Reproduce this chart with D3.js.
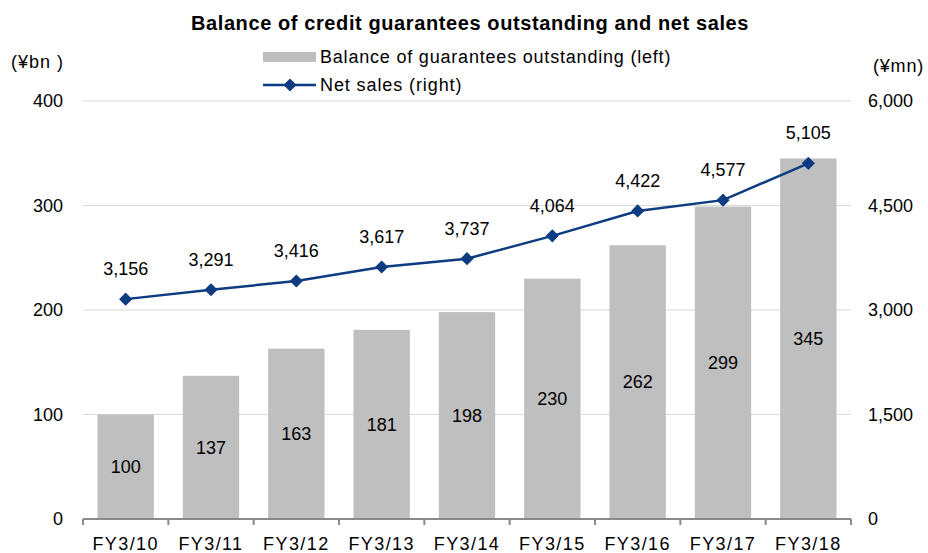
<!DOCTYPE html>
<html><head><meta charset="utf-8">
<script src="https://cdn.jsdelivr.net/npm/d3@7"></script>
<style>
html,body{margin:0;padding:0;background:#fff;}
svg text{font-family:"Liberation Sans",Arial,sans-serif;fill:#000;}
</style></head>
<body><svg id="chart" width="928" height="553"></svg>
<script>
const categories = ["FY3/10","FY3/11","FY3/12","FY3/13","FY3/14","FY3/15","FY3/16","FY3/17","FY3/18"];
const guarantees = [100,137,163,181,198,230,262,299,345];
const netSales = [3156,3291,3416,3617,3737,4064,4422,4577,5105];
const leftTicks = [0,100,200,300,400];
const rightTicks = [0,1500,3000,4500,6000];
const titleText = "Balance of credit guarantees outstanding and net sales";
const legendBar = "Balance of guarantees outstanding (left)";
const legendLine = "Net sales (right)";
const leftUnit = "(¥bn )";
const rightUnit = "(¥mn)";

const svg = d3.select("#chart");
const m = {left:83, right:851, top:101, bottom:519};
const x = d3.scaleBand().domain(categories).range([m.left,m.right]).paddingInner(0.34).paddingOuter(0.17);
const yL = d3.scaleLinear().domain([0,400]).range([m.bottom,m.top]);
const yR = d3.scaleLinear().domain([0,6000]).range([m.bottom,m.top]);
const fmt = d3.format(",");
const blue = "#0d3c82";

// gridlines
svg.append("g").selectAll("line").data(leftTicks.filter(d=>d>0)).join("line")
  .attr("x1",m.left).attr("x2",m.right)
  .attr("y1",d=>yL(d)).attr("y2",d=>yL(d))
  .attr("stroke","#d9d9d9").attr("stroke-width",1.2);

// bars
svg.append("g").selectAll("rect").data(guarantees).join("rect")
  .attr("x",(d,i)=>x(categories[i]))
  .attr("width",x.bandwidth())
  .attr("y",d=>yL(d)).attr("height",d=>yL(0)-yL(d))
  .attr("fill","#bfbfbf");

// bar labels
svg.append("g").selectAll("text").data(guarantees).join("text")
  .attr("x",(d,i)=>x(categories[i])+x.bandwidth()/2)
  .attr("y",d=>(yL(d)+yL(0))/2)
  .attr("dy","0.35em").attr("text-anchor","middle")
  .style("font-size","18px").text(d=>d);

// x axis
const xAxisG = svg.append("g").attr("transform",`translate(0,${m.bottom})`);
xAxisG.append("line").attr("x1",m.left).attr("x2",m.right).attr("stroke","#898989").attr("stroke-width",2);
const bounds = d3.range(categories.length+1).map(i=>m.left + i*(m.right-m.left)/categories.length);
xAxisG.selectAll("line.tk").data(bounds).join("line").attr("class","tk")
  .attr("x1",d=>d).attr("x2",d=>d).attr("y1",0).attr("y2",6)
  .attr("stroke","#898989").attr("stroke-width",2);
xAxisG.selectAll("text").data(categories).join("text")
  .attr("x",d=>x(d)+x.bandwidth()/2).attr("y",31)
  .attr("text-anchor","middle").style("font-size","18px").style("letter-spacing","1.4px").text(d=>d);

// left axis labels
svg.append("g").selectAll("text").data(leftTicks).join("text")
  .attr("x",63).attr("y",d=>yL(d)).attr("dy","0.35em")
  .attr("text-anchor","end").style("font-size","18px").text(d=>d);
// right axis labels
svg.append("g").selectAll("text").data(rightTicks).join("text")
  .attr("x",868).attr("y",d=>yR(d)).attr("dy","0.35em")
  .attr("text-anchor","start").style("font-size","18px").text(d=>fmt(d));

// units
svg.append("text").attr("x",11).attr("y",68).style("font-size","18px").style("letter-spacing","1px").text(leftUnit);
svg.append("text").attr("x",873).attr("y",72).style("font-size","18px").style("letter-spacing","0.8px").text(rightUnit);

// line
const cx = (d,i)=>x(categories[i])+x.bandwidth()/2;
const line = d3.line().x((d,i)=>cx(d,i)).y(d=>yR(d));
svg.append("path").datum(netSales).attr("d",line).attr("fill","none").attr("stroke",blue).attr("stroke-width",2.5);
const diamond = d3.symbol().type(d3.symbolDiamond2).size(110);
svg.append("g").selectAll("path").data(netSales).join("path")
  .attr("transform",(d,i)=>`translate(${cx(d,i)},${yR(d)})`)
  .attr("d",diamond).attr("fill",blue);
svg.append("g").selectAll("text").data(netSales).join("text")
  .attr("x",(d,i)=>cx(d,i)).attr("y",d=>yR(d)-24)
  .attr("text-anchor","middle").style("font-size","18px").text(d=>fmt(d));

// title
svg.append("text").attr("x",470).attr("y",30).attr("text-anchor","middle")
  .style("font-size","20px").style("font-weight","bold").style("letter-spacing","0.6px").text(titleText);

// legend
svg.append("rect").attr("x",263).attr("y",52).attr("width",53).attr("height",10).attr("fill","#bfbfbf");
svg.append("text").attr("x",320).attr("y",63).style("font-size","18px").style("letter-spacing","0.8px").text(legendBar);
svg.append("line").attr("x1",263).attr("x2",316).attr("y1",85).attr("y2",85).attr("stroke",blue).attr("stroke-width",2.5);
svg.append("path").attr("transform","translate(290,85)").attr("d",diamond).attr("fill",blue);
svg.append("text").attr("x",320).attr("y",91).style("font-size","18px").style("letter-spacing","0.9px").text(legendLine);
</script></body></html>
